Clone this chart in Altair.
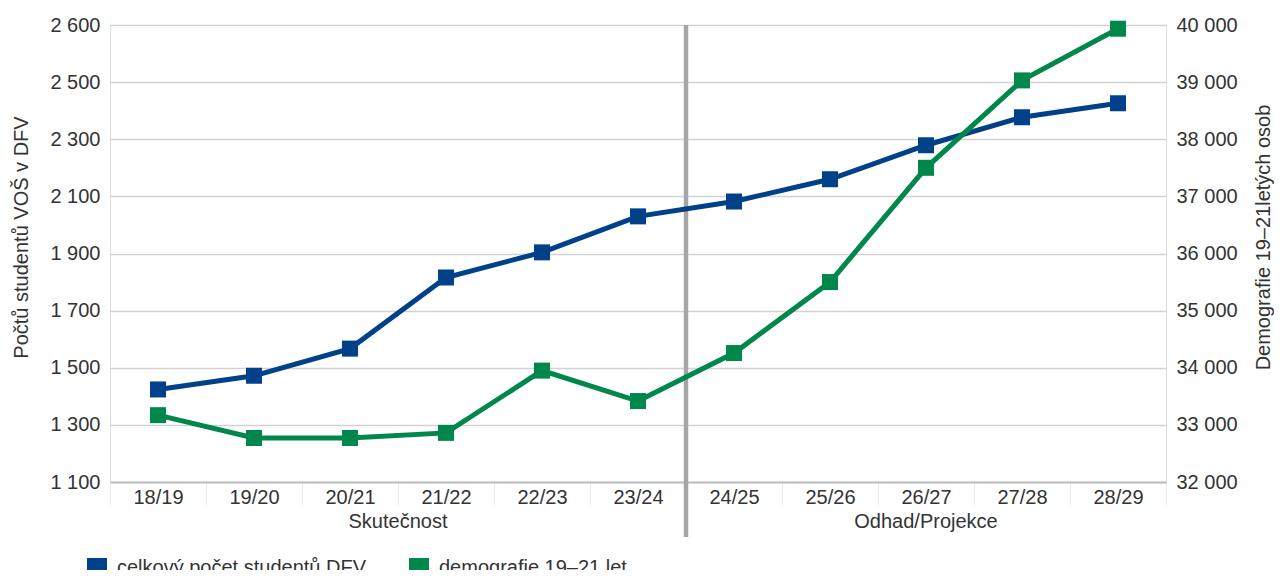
import altair as alt
import pandas as pd

categories = ["18/19", "19/20", "20/21", "21/22", "22/23", "23/24",
              "24/25", "25/26", "26/27", "27/28", "28/29"]
students = [1424, 1472, 1567, 1816, 1904, 2030, 2082, 2160, 2279, 2377, 2426]
demography = [33170, 32770, 32770, 32860, 33950, 33417, 34257, 35500, 37500, 39030, 39935]
series_names = ["celkový počet studentů DFV", "demografie 19–21 let"]
group_labels = ["Skutečnost", "Odhad/Projekce"]
left_ticks = [1100, 1300, 1500, 1700, 1900, 2100, 2300, 2500, 2700]
right_ticks = [32000, 33000, 34000, 35000, 36000, 37000, 38000, 39000, 40000]

BLUE = "#00418a"
GREEN = "#00874b"
FONT = "Liberation Sans"
TXT = "#333333"
FS = 20

df_s = pd.DataFrame({"cat": categories, "v": students, "series": series_names[0]})
df_d = pd.DataFrame({"cat": categories, "v": demography, "series": series_names[1]})

xscale = alt.Scale(domain=categories, paddingInner=0, paddingOuter=0)
xaxis = alt.Axis(title=None, labelFont=FONT, labelFontSize=FS, labelColor=TXT,
                 labelAngle=0, labelPadding=-18, ticks=True, tickBand="extent",
                 tickColor="#ececec", tickSize=23, domainColor="#bdbdbd",
                 domainWidth=2, grid=False)

color_scale = alt.Scale(domain=series_names, range=[BLUE, GREEN])
legend = alt.Legend(title=None, orient="none", direction="horizontal",
                    legendX=-23, legendY=533, symbolType="square", symbolSize=400,
                    symbolStrokeWidth=0, labelFont=FONT, labelFontSize=FS,
                    labelColor=TXT, labelOffset=10, columnPadding=42, padding=0,
                    labelLimit=0)

sep = alt.Chart(pd.DataFrame({"cat": ["24/25"]})).mark_rule(
    color="#a6a6a6", strokeWidth=4.5
).encode(
    x=alt.X("cat:N", bandPosition=0, scale=xscale, axis=xaxis),
    y=alt.value(0), y2=alt.value(512),
)

g1 = alt.Chart(pd.DataFrame({"cat": ["21/22"], "t": [group_labels[0]]})).mark_text(
    font=FONT, fontSize=FS, color=TXT, baseline="middle"
).encode(x=alt.X("cat:N", bandPosition=0, scale=xscale), y=alt.value(497), text="t:N")

g2 = alt.Chart(pd.DataFrame({"cat": ["26/27"], "t": [group_labels[1]]})).mark_text(
    font=FONT, fontSize=FS, color=TXT, baseline="middle"
).encode(x=alt.X("cat:N", bandPosition=0.5, scale=xscale), y=alt.value(497), text="t:N")

left_y = alt.Y("v:Q", scale=alt.Scale(domain=[1100, 2700], nice=False, zero=False),
               axis=alt.Axis(orient="left", values=left_ticks, title="Počtů studentů VOŠ v DFV",
                             labelExpr="datum.value == 2700 ? '2 600' : replace(format(datum.value, ','), ',', ' ')",
                             labelFont=FONT, labelFontSize=FS, labelColor=TXT, labelPadding=10,
                             titleFont=FONT, titleFontSize=FS, titleFontWeight="normal",
                             titleColor=TXT, titlePadding=18, titleY=212, ticks=False, domain=False,
                             grid=True, gridColor="#d2d2d2", gridWidth=1.5))

right_y = alt.Y("v:Q", scale=alt.Scale(domain=[32000, 40000], nice=False, zero=False),
                axis=alt.Axis(orient="right", values=right_ticks, title="Demografie 19–21letých osob",
                              labelExpr="replace(format(datum.value, ','), ',', ' ')",
                              labelFont=FONT, labelFontSize=FS, labelColor=TXT, labelPadding=10,
                              titleFont=FONT, titleFontSize=FS, titleFontWeight="normal",
                              titleColor=TXT, titleAngle=270, titlePadding=36, titleY=212,
                              ticks=False, domain=False, grid=False))

blue_line = alt.Chart(df_s).mark_line(strokeWidth=5, color=BLUE).encode(
    x=alt.X("cat:N", scale=xscale), y=left_y)
blue_pts = alt.Chart(df_s).mark_point(shape="square", size=256, filled=True, opacity=1).encode(
    x=alt.X("cat:N", scale=xscale), y=alt.Y("v:Q"),
    color=alt.Color("series:N", scale=color_scale, legend=legend))

green_line = alt.Chart(df_d).mark_line(strokeWidth=5, color=GREEN).encode(
    x=alt.X("cat:N", scale=xscale), y=right_y)
green_pts = alt.Chart(df_d).mark_point(shape="square", size=256, filled=True, opacity=1).encode(
    x=alt.X("cat:N", scale=xscale), y=alt.Y("v:Q"),
    color=alt.Color("series:N", scale=color_scale, legend=legend))

chart = alt.layer(
    sep, g1, g2,
    alt.layer(blue_line, blue_pts),
    alt.layer(green_line, green_pts),
).resolve_scale(y="independent").properties(
    width=1056, height=457,
    autosize=alt.AutoSizeParams(type="none"),
    padding={"left": 102, "top": 17, "right": 108, "bottom": 88},
).configure_view(stroke=None).configure(background="white")

chart.save("out.html", embed_options={"renderer": "svg", "actions": False})
